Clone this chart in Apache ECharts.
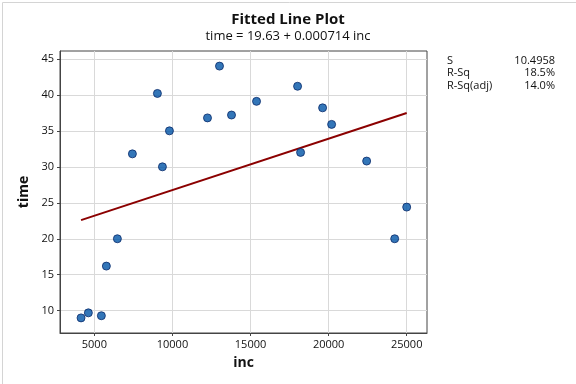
<!DOCTYPE html>
<html><head><meta charset="utf-8">
<script src="https://cdn.jsdelivr.net/npm/echarts@6/dist/echarts.min.js"></script>
<style>html,body{margin:0;padding:0;background:#fff}#c{width:576px;height:384px}</style>
</head><body><div id="c"></div>
<script>
const inc = [4147,4615,5449,5769,6474,7436,9038,9359,9808,12244,13013,13782,15385,18013,18205,19615,20192,22436,24231,25000];
const time = [9.0,9.7,9.3,16.2,20.0,31.8,40.2,30.0,35.0,36.8,44.0,37.2,39.1,41.2,32.0,38.2,35.9,30.8,20.0,24.4];
const fitX = [4147, 25000];
const fitY = [22.59, 37.48];
const xTicks = [5000,10000,15000,20000,25000];
const yTicks = [10,15,20,25,30,35,40,45];
const statNames = ['S','R-Sq','R-Sq(adj)'];
const statValues = ['10.4958','18.5%','14.0%'];

const FONT = '"Open Sans", "DejaVu Sans", sans-serif';
const chart = echarts.init(document.getElementById('c'));
const pts = inc.map((v,i)=>[v,time[i]]);
const fit = fitX.map((v,i)=>[v,fitY[i]]);
const statGraphics = [];
statNames.forEach((n,i)=>{
  statGraphics.push({type:'text',left:447,top:55+i*12.5,style:{text:n,font:'11px '+FONT,fill:'#111'}});
  statGraphics.push({type:'text',right:21,top:55+i*12.5,style:{text:statValues[i],font:'11px '+FONT,fill:'#111',textAlign:'right'}});
});
chart.setOption({
  animation:false,
  textStyle:{fontFamily:FONT},
  title:[{text:'Fitted Line Plot',left:'center',top:7,textStyle:{fontSize:15,fontWeight:'bold',color:'#111',fontFamily:FONT}},
         {text:'time = 19.63 + 0.000714 inc',left:'center',top:25,textStyle:{fontSize:13,fontWeight:'normal',color:'#111',fontFamily:FONT}}],
  grid:{left:60,right:149,top:51,bottom:51,show:true,borderColor:'#444',borderWidth:1,backgroundColor:'transparent'},
  xAxis:{type:'value',min:2800,max:26300,name:'inc',nameLocation:'middle',nameGap:23,
    nameTextStyle:{fontSize:14,fontWeight:'bold',color:'#111',fontFamily:FONT},
    axisLine:{show:true,onZero:false,lineStyle:{color:'#444'}},
    axisTick:{show:true,customValues:xTicks,length:3,lineStyle:{color:'#444'}},
    axisLabel:{customValues:xTicks,fontSize:11,color:'#111',margin:6,formatter:v=>String(v)},
    splitLine:{show:true,customValues:xTicks,lineStyle:{color:'#d9d9d9'}}},
  yAxis:{type:'value',min:6.9,max:46.1,name:'time',nameLocation:'middle',nameGap:28,nameRotate:90,
    nameTextStyle:{fontSize:14,fontWeight:'bold',color:'#111',fontFamily:FONT},
    axisLine:{show:true,onZero:false,lineStyle:{color:'#444'}},
    axisTick:{show:true,customValues:yTicks,length:3,lineStyle:{color:'#444'}},
    axisLabel:{customValues:yTicks,fontSize:11,color:'#111',margin:6},
    splitLine:{show:true,customValues:yTicks,lineStyle:{color:'#d9d9d9'}}},
  graphic:[{type:'rect',left:0,top:0,shape:{width:575,height:383},style:{fill:'none',stroke:'#d4d4d4',lineWidth:1}}].concat(statGraphics),
  series:[
    {type:'line',data:fit,symbol:'none',lineStyle:{color:'#8b0000',width:2},z:2},
    {type:'scatter',data:pts,symbol:'circle',symbolSize:8,itemStyle:{color:'#0054a6',borderColor:'#0a2a6a',borderWidth:1},z:3}
  ]
});
</script></body></html>
